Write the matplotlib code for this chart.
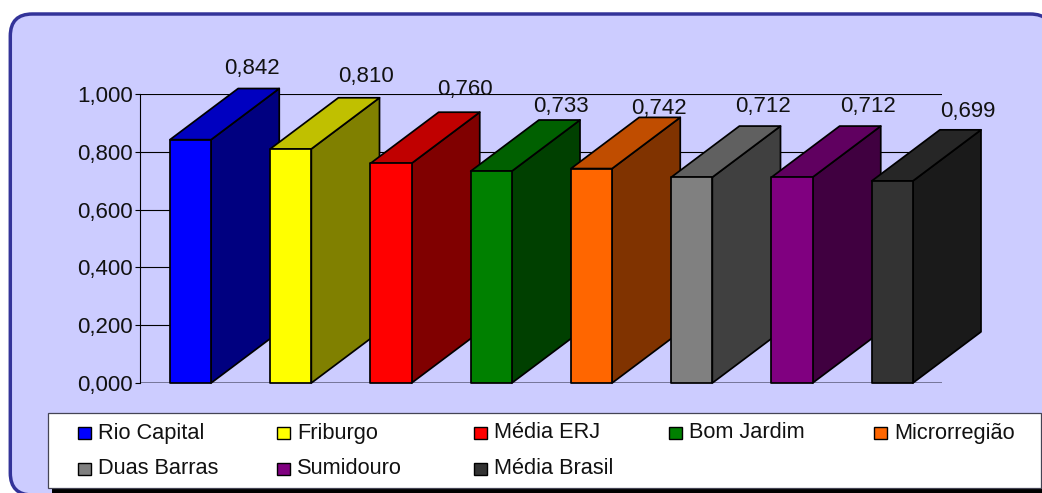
import matplotlib
matplotlib.use("Agg")
from matplotlib import pyplot as plt
from matplotlib.patches import FancyBboxPatch, Polygon, Rectangle

regions = ["Rio Capital", "Friburgo", "Média ERJ", "Bom Jardim", "Microrregião",
           "Duas Barras", "Sumidouro", "Média Brasil"]
values = [0.842, 0.810, 0.760, 0.733, 0.742, 0.712, 0.712, 0.699]
value_labels = ["0,842", "0,810", "0,760", "0,733", "0,742", "0,712", "0,712", "0,699"]
front_colors = ["#0000FF", "#FFFF00", "#FF0000", "#008000", "#FF6600", "#808080", "#800080", "#333333"]
side_colors = ["#000080", "#808000", "#800000", "#004000", "#803300", "#404040", "#400040", "#1A1A1A"]
top_colors = ["#0000C0", "#C0C000", "#C00000", "#006000", "#C04D00", "#606060", "#600060", "#262626"]
y_ticks = [0.0, 0.2, 0.4, 0.6, 0.8, 1.0]
y_tick_labels = ["0,000", "0,200", "0,400", "0,600", "0,800", "1,000"]

# label nudges in pixels, measured from the top back corner of each box
label_dx = [-27, -13, -15, -19, -21, -17, -13, -13]
label_dy = [20, 21, 23, 14, 9, 20, 20, 18]

W, H = 1042, 493
BAR_W = 0.41
DEPTH_X = 0.68
DEPTH_Y = 0.177

plt.rcParams["font.family"] = ["Liberation Sans", "DejaVu Sans"]
plt.rcParams["font.size"] = 16

fig = plt.figure(figsize=(W / 100, H / 100), dpi=100, facecolor="white")

# full-size overlay in pixel units for the panel and legend box
bg = fig.add_axes([0, 0, 1, 1], zorder=0)
bg.set_xlim(0, W)
bg.set_ylim(H, 0)
bg.axis("off")
bg.add_patch(FancyBboxPatch((10.3, 14), 1042, 481, boxstyle="round,pad=0,rounding_size=1",
                            mutation_scale=22, facecolor="#CCCCFF", edgecolor="#333399",
                            linewidth=2.5))

ax = fig.add_axes([140.4 / W, 1 - 383 / H, 802 / W, 289 / H], zorder=1)
ax.patch.set_alpha(0)
ax.set_xlim(0, len(values))
ax.set_ylim(0, 1)
ax.set_xticks([])
ax.set_yticks(y_ticks)
ax.set_yticklabels(y_tick_labels)
ax.tick_params(axis="y", length=3.8, width=0.8, pad=1.5, color="black", labelcolor="#111111")
ax.grid(False)
for s in ["top", "right", "bottom"]:
    ax.spines[s].set_visible(False)
ax.spines["left"].set_linewidth(0.8)
ax.hlines(y_ticks[1:], 0, len(values), colors="black", linewidth=0.8, zorder=1)
ax.hlines(0, 0, len(values), colors="#666688", linewidth=1.2, zorder=1)

for i, v in enumerate(values):
    x0 = i + 0.5 - BAR_W / 2
    x1 = x0 + BAR_W
    style = dict(edgecolor="black", linewidth=1.25, joinstyle="round", clip_on=False, zorder=3 + i)
    ax.add_patch(Polygon([(x1, 0), (x1 + DEPTH_X, DEPTH_Y), (x1 + DEPTH_X, v + DEPTH_Y), (x1, v)],
                         facecolor=side_colors[i], **style))
    ax.add_patch(Polygon([(x0, v), (x0 + DEPTH_X, v + DEPTH_Y), (x1 + DEPTH_X, v + DEPTH_Y), (x1, v)],
                         facecolor=top_colors[i], **style))
    ax.add_patch(Rectangle((x0, 0), BAR_W, v, facecolor=front_colors[i], **style))
    ax.annotate(value_labels[i], xy=(x1 + DEPTH_X, v + DEPTH_Y),
                xytext=(label_dx[i], label_dy[i]), textcoords="offset pixels",
                ha="center", va="center", color="#111111", zorder=20, annotation_clip=False)

# legend box, laid out by hand because the columns are not evenly spaced
top = fig.add_axes([0, 0, 1, 1], zorder=2)
top.set_xlim(0, W)
top.set_ylim(H, 0)
top.axis("off")
top.patch.set_alpha(0)
top.add_patch(Rectangle((52, 417), 992, 76, facecolor="black", edgecolor="none"))
top.add_patch(Rectangle((47.5, 413), 993, 75, facecolor="white", edgecolor="#444455", linewidth=0.9))
legend_x = [78, 277, 474, 669, 874, 78, 277, 474]
legend_y = [433, 433, 433, 433, 433, 469, 469, 469]
for name, color, lx, ly in zip(regions, front_colors, legend_x, legend_y):
    top.add_patch(Rectangle((lx, ly - 6.2), 12.5, 12.5, facecolor=color, edgecolor="black", linewidth=1.0))
    top.text(lx + 20, ly + 5.5, name, ha="left", va="baseline", color="#111111", fontsize=15.7)

fig.savefig("out.png", dpi=100, facecolor="white")
